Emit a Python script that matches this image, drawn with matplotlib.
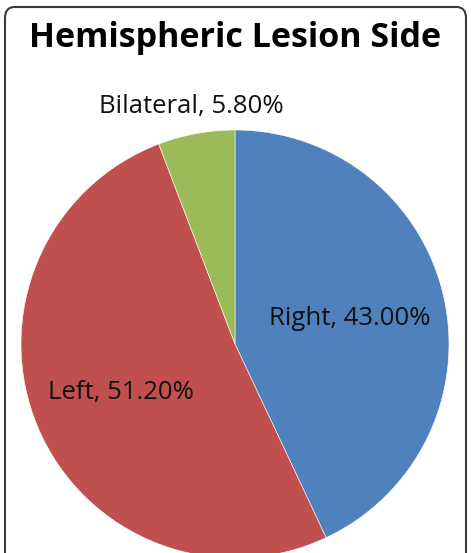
import matplotlib
matplotlib.use('Agg')
import matplotlib.pyplot as plt
from matplotlib.patches import FancyBboxPatch
import numpy as np

labels = ['Right', 'Left', 'Bilateral']
values = [43.00, 51.20, 5.80]
colors = ['#4F81BD', '#C0504D', '#9BBB59']
label_dist = [0.55, 0.58, 1.13]

W, H = 471, 553
fig = plt.figure(figsize=(W / 100, H / 100), dpi=100)

# pie axes: center (235, 344) px, radius 214 px
r = 214
ax = fig.add_axes([(235 - r) / W, (H - 344 - r) / H, 2 * r / W, 2 * r / H])
wedges, _ = ax.pie(values, colors=colors, startangle=90, counterclock=False,
                   radius=1, wedgeprops=dict(edgecolor='white', linewidth=0.4))
ax.set_xlim(-1, 1)
ax.set_ylim(-1, 1)
ax.set_axis_off()
for w in wedges:
    w.set_clip_on(False)

for w, lab, v, d in zip(wedges, labels, values, label_dist):
    ang = np.deg2rad((w.theta1 + w.theta2) / 2)
    ax.text(d * np.cos(ang), d * np.sin(ang), '{}, {:.2f}%'.format(lab, v),
            ha='center', va='center', fontsize=18.5, family='Open Sans',
            color='#111111')

fig.text(235 / W, 1 - 38 / H, 'Hemispheric Lesion Side', ha='center', va='center',
         fontsize=24.5, fontweight='bold', family='Open Sans')

frame = FancyBboxPatch((5 / W, -0.05), 461 / W, (H - 7) / H + 0.05,
                       boxstyle='round,pad=0,rounding_size=0.02',
                       transform=fig.transFigure, fill=False,
                       edgecolor='#3a3a3a', linewidth=1.5)
fig.patches.append(frame)

fig.savefig('out.png', dpi=100)
